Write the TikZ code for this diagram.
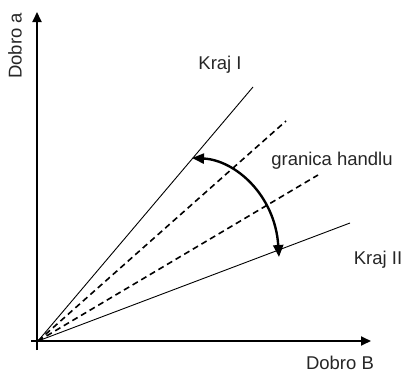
\documentclass[tikz,border=0pt]{standalone}
\usepackage{fontspec}
\setmainfont{Liberation Sans}
\usetikzlibrary{arrows.meta}
\begin{document}
\begin{tikzpicture}[x=1pt,y=-1pt,
  axis/.style={line width=1.8pt,-{Triangle[length=10pt,width=9pt]}},
  ray/.style={line width=0.9pt},
  dray/.style={line width=1.6pt,dash pattern=on 6pt off 4pt},
  swing/.style={line width=2.4pt,{Triangle[length=12pt,width=10pt]}-{Triangle[length=12pt,width=10pt]}},
  lbl/.style={font=\fontsize{18.5}{21}\selectfont,inner sep=0pt,text=black!85}]
\useasboundingbox (0,0) rectangle (405,372);
\coordinate (O) at (38,341);
\coordinate (yb) at (37,350);
\coordinate (yt) at (37,12);
\coordinate (xb) at (31,341);
\coordinate (xt) at (371,341);
\coordinate (k1) at (253,87);
\coordinate (d1) at (286,121);
\coordinate (d2) at (318,175);
\coordinate (k2) at (350,223);
\coordinate (a1) at (192,158);
\coordinate (a2) at (279,257);
\draw[axis] (yb) -- (yt);
\draw[axis] (xb) -- (xt);
\draw[ray] (O) -- (k1);
\draw[ray] (O) -- (k2);
\draw[dray] (O) -- (d1);
\draw[dray] (O) -- (d2);
\draw[swing] (a1) .. controls (235,160) and (275,195) .. (a2);
\node[lbl,rotate=90] (la) at (15,46) {Dobro a};
\node[lbl] (lb) at (340,363) {Dobro B};
\node[lbl] (lk1) at (220,65) {Kraj I};
\node[lbl] (lg) at (332,161) {granica handlu};
\node[lbl] (lk2) at (378,260) {Kraj II};
\end{tikzpicture}
\end{document}
